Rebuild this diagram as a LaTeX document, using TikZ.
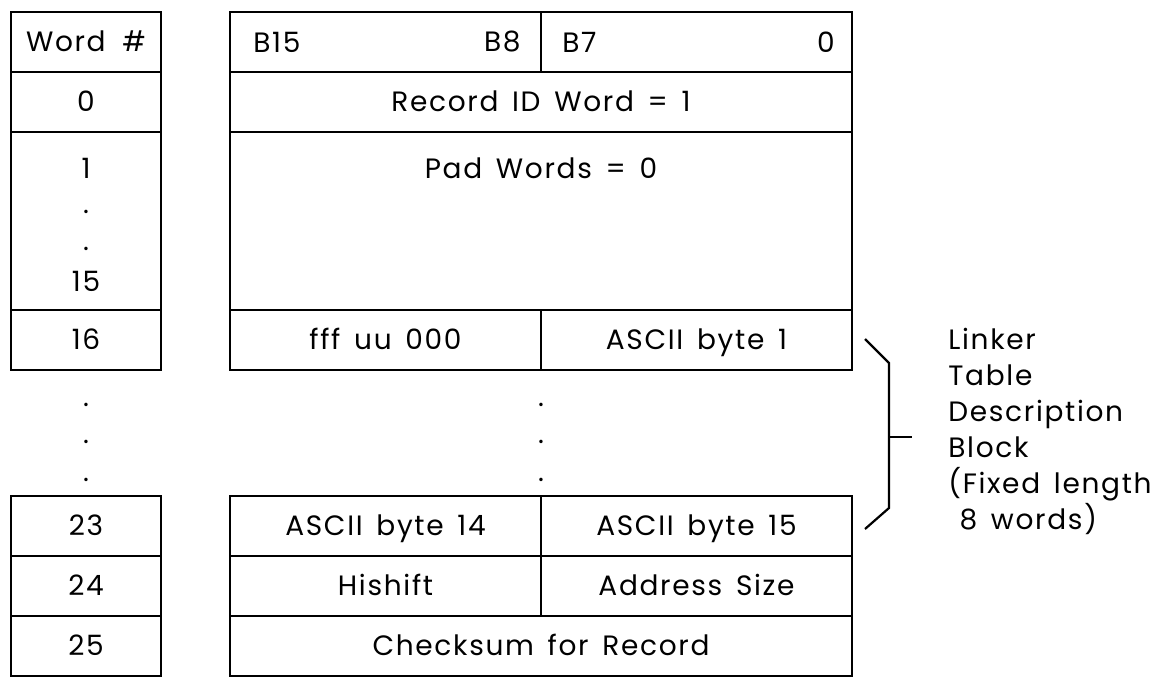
\documentclass[tikz,border=0pt]{standalone}
\usepackage{fontspec}
\setmainfont[LetterSpace=6, WordSpace=1.5]{Poppins}
\usetikzlibrary{positioning}
\tikzstyle{cell} = [draw, line width=1.1pt, inner sep=0pt, outer sep=0pt, minimum height=30pt, text height=9.8pt, text depth=0pt, font=\fontsize{14}{16}\selectfont]
\tikzstyle{txt} = [inner sep=0pt, font=\fontsize{14}{18}\selectfont]

\begin{document}
\begin{tikzpicture}[x=0.5pt, y=-0.5pt]
    \useasboundingbox (0,0) rectangle (1153,680);

    % Word numbers
    \node[cell, minimum width=75pt, anchor=north west] (whead) at (11,12) {Word\hspace{0.6em}\#};
    \node[cell, minimum width=75pt, below=0pt of whead] (w0) {0};
    \node[cell, minimum width=75pt, minimum height=89pt, below=0pt of w0] (wpad) {};
    \node[cell, minimum width=75pt, below=0pt of wpad] (w16) {16};
    \node[cell, minimum width=75pt, below=63pt of w16] (w23) {23};
    \node[cell, minimum width=75pt, below=0pt of w23] (w24) {24};
    \node[cell, minimum width=75pt, below=0pt of w24] (w25) {25};
    \node[txt] (w1) at (86,168) {1};
    \node[txt] (wd1) at (86,212) {.};
    \node[txt] (wd2) at (86,249) {.};
    \node[txt] (w15) at (86,281) {15};
    \node[txt] (wg1) at (86,405) {.};
    \node[txt] (wg2) at (86,442) {.};
    \node[txt] (wg3) at (86,480) {.};

    % Record words
    \node[cell, minimum width=155.5pt, anchor=north west] (hi) at (230,12) {};
    \node[cell, minimum width=155.5pt, right=0pt of hi] (lo) {};
    \node[txt, anchor=west] (b15) at ([xshift=11.5pt]hi.west) {B15};
    \node[txt, anchor=east] (b8) at ([xshift=-10pt]hi.east) {B8};
    \node[txt, anchor=west] (b7) at ([xshift=10.5pt]lo.west) {B7};
    \node[txt, anchor=east] (b0) at ([xshift=-8.5pt]lo.east) {0};
    \node[cell, minimum width=311pt, anchor=north west] (rec) at (hi.south west) {Record ID Word = 1};
    \node[cell, minimum width=311pt, minimum height=89pt, below=0pt of rec] (pad) {};
    \node[txt] (padtxt) at (541,168) {Pad Words = 0};
    \node[cell, minimum width=155.5pt, anchor=north west] (fff) at (pad.south west) {fff uu 000};
    \node[cell, minimum width=155.5pt, right=0pt of fff] (a1) {ASCII byte 1};
    \node[txt] (rg1) at (541,405) {.};
    \node[txt] (rg2) at (541,442) {.};
    \node[txt] (rg3) at (541,480) {.};
    \node[cell, minimum width=155.5pt, below=63pt of fff] (a14) {ASCII byte 14};
    \node[cell, minimum width=155.5pt, right=0pt of a14] (a15) {ASCII byte 15};
    \node[cell, minimum width=155.5pt, below=0pt of a14] (hish) {Hishift};
    \node[cell, minimum width=155.5pt, right=0pt of hish] (asize) {Address Size};
    \node[cell, minimum width=311pt, anchor=north west] (chk) at (hish.south west) {Checksum for Record};

    % Brace
    \coordinate (bt) at (865,339);
    \coordinate (bt2) at (889,363);
    \coordinate (bb2) at (889,508);
    \coordinate (bb) at (865,529);
    \coordinate (bm) at (889,437);
    \coordinate (btip) at (912,437);
    \draw[line width=1.1pt] (bt) -- (bt2) -- (bb2) -- (bb);
    \draw[line width=1.1pt] (bm) -- (btip);
    \node[txt, anchor=north west, align=left] (ltd) at (948,328)
        {Linker\\Table\\Description\\Block\\(Fixed length\\\hspace*{0.4em}8 words)};
\end{tikzpicture}
\end{document}
